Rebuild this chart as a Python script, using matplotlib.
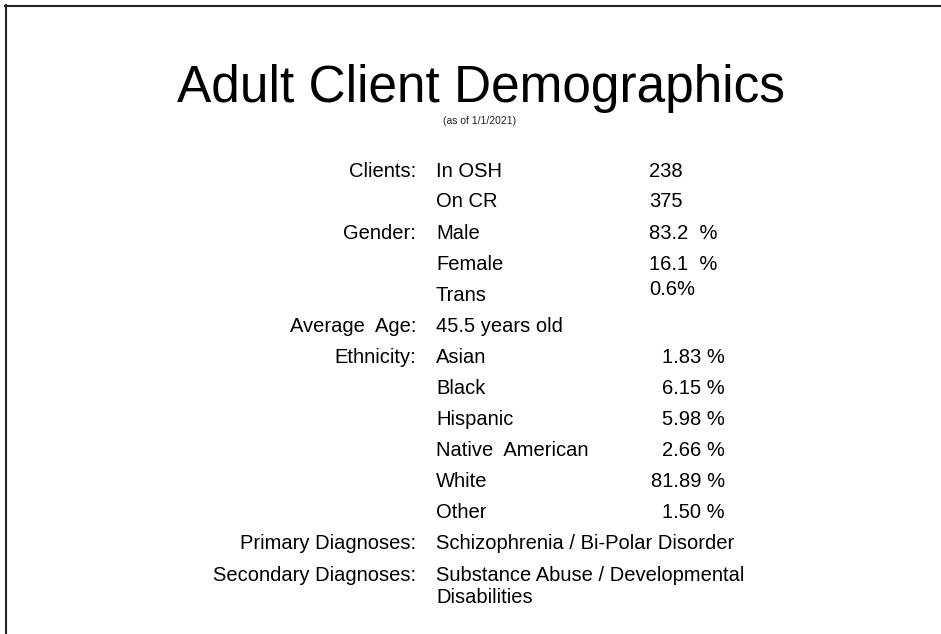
import matplotlib
matplotlib.use("Agg")
import matplotlib.pyplot as plt
from matplotlib.lines import Line2D

plt.rcParams['font.family'] = ['Liberation Sans', 'DejaVu Sans']

title = "Adult Client Demographics"
subtitle = "(as of 1/1/2021)"

# rows: (label, item, value)
labels = ["Clients:", "", "Gender:", "", "", "Average  Age:", "Ethnicity:", "", "", "", "", "",
          "Primary Diagnoses:", "Secondary Diagnoses:", ""]
items = ["In OSH", "On CR", "Male", "Female", "Trans", "45.5 years old", "Asian", "Black",
         "Hispanic", "Native  American", "White", "Other",
         "Schizophrenia / Bi-Polar Disorder", "Substance Abuse / Developmental", "Disabilities"]
values = ["238", "375", "83.2  %", "16.1  %", "0.6%", "", "1.83 %", "6.15 %", "5.98 %",
          "2.66 %", "81.89 %", "1.50 %", "", "", ""]
row_y = [170, 200, 232, 263, 294, 325, 356, 387, 418, 449, 480, 511, 542, 574, 596]
value_y = [170, 200, 232, 263, 288, 325, 356, 387, 418, 449, 480, 511, 542, 574, 596]

W, H = 941, 634
fig = plt.figure(figsize=(W / 100, H / 100), dpi=100)
fig.patch.set_facecolor('white')

def fx(x):
    return x / W

def fy(y):
    return 1 - y / H

# frame lines (top and left)
fig.add_artist(Line2D([fx(5), 1], [fy(5.5), fy(5.5)], color='#222222', lw=1.5))
fig.add_artist(Line2D([fx(5.5), fx(5.5)], [fy(5), 0], color='#222222', lw=1.5))

fig.text(fx(481), fy(102), title, ha='center', va='baseline', fontsize=37, color='black')
fig.text(fx(480), fy(124), subtitle, ha='center', va='baseline', fontsize=7.5, color='#222222')

fs = 14.5
off = 7
for i, (lab, it, val) in enumerate(zip(labels, items, values)):
    y = row_y[i] + off
    if lab:
        fig.text(fx(416), fy(y), lab, ha='right', va='baseline', fontsize=fs)
    if it:
        fig.text(fx(436), fy(y), it, ha='left', va='baseline', fontsize=fs)
    if val:
        yv = value_y[i] + off
        if 6 <= i <= 11:
            fig.text(fx(725), fy(yv), val, ha='right', va='baseline', fontsize=fs)
        else:
            fig.text(fx(649), fy(yv), val, ha='left', va='baseline', fontsize=fs)

fig.savefig("out.png", dpi=100, facecolor='white')
